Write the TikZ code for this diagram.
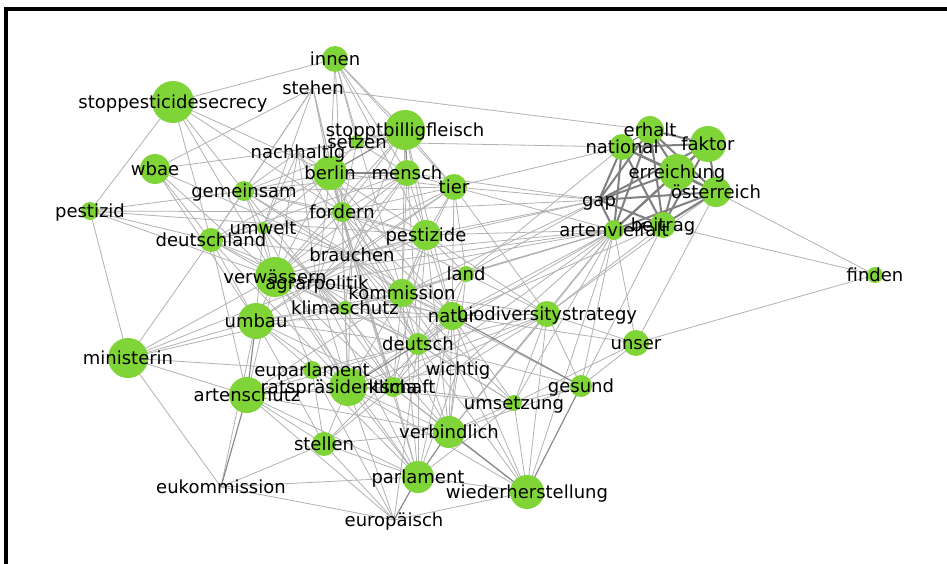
\documentclass[tikz,border=0pt]{standalone}
\usepackage{fontspec}
\setmainfont{DejaVu Sans}
\pgfdeclarelayer{bg}\pgfdeclarelayer{fg}\pgfsetlayers{bg,main,fg}
\definecolor{nodegreen}{RGB}{127,212,55}
\tikzset{
  dot/.style={circle, fill=nodegreen, draw=none, inner sep=0pt},
  lbl/.style={font=\fontsize{18}{18}\selectfont, text height=13.7pt, text depth=3.8pt, inner sep=0pt, text=black, yshift=-1.5pt},
  eA/.style={draw=black!30, line width=0.8pt},
  eB/.style={draw=black!48, line width=1.1pt},
  eC/.style={draw=black!50, line width=2pt},
}
\begin{document}
\begin{tikzpicture}[x=1pt,y=-1pt]
\useasboundingbox (0,0) rectangle (947,564);
% nodes
\foreach \n/\x/\y/\d in {inn/335/59/26, sps/173/102/42, sbf/405/130/40, se/357/142/14,
  wb/155/169/30, be/330/173/34, me/407/173/26, ti/454/187/26, ge/244/191/20,
  pz/90/211/18, fo/342/212/20, uw/263/228/12, dl/211/240/24, pe/426/235/30,
  vw/275/277/40, la/466/274/16, ko/402/293/28, ks/345/308/14, nt/452/316/28,
  bd/547/314/26, ub/256/321/36, de/418/344/22, un/636/343/26, mi/128/358/40,
  ep/312/370/18, rp/348/387/38, kl/393/387/20, as/247/395/36, gs/581/386/22,
  us/514/403/16, vb/449/432/32, sl/324/444/24, pa/418/477/32, wh/527/492/34,
  fi/875/275/16, er/650/130/28, nl/622/147/26, fa/708/144/36, ec/677/172/36,
  oe/716/192/30, av/614/230/20, bt/663/225/26}
  \node[dot, minimum size=\d pt] (\n) at (\x,\y) {};
\foreach \n/\x/\y in {st/313/88, na/298/152, br/352/255, ap/317/283, wi/458/369,
  ek/221/487, eu/394/520, gp/599/200}
  \coordinate (\n) at (\x,\y);
% edges
\begin{pgfonlayer}{bg}
\fill[white] (0,0) rectangle (947,564);
\foreach \a/\b in {inn/sps, inn/be, inn/se, inn/sbf, inn/me, inn/ti, inn/fo, inn/pe, inn/ko,
 sps/pz, sps/dl, sps/vw, sps/be, sps/fo, sps/ge,
 st/wb, st/uw, st/be, st/fo, st/br, st/er, st/dl, st/ge,
 wb/se, wb/dl, wb/vw, wb/ub, wb/br,
 sbf/ti, sbf/se, sbf/fo, sbf/pe, sbf/ko, sbf/br, sbf/vw, sbf/ge, sbf/na, sbf/nt, sbf/de,
 se/nl, se/be, se/me, se/fo,
 na/be, na/uw, na/fo, na/br, na/ap, na/ge, na/vw,
 be/ti, be/fo, be/ge, be/uw, be/dl, be/vw, be/br, be/ap, be/ko, be/pe, be/nt, be/kl, be/de,
 me/ti, me/fo, me/pe, me/br, me/ap, me/vw, me/ko, me/ge, me/dl,
 ti/pe, ti/fo, ti/la, ti/br, ti/vw, ti/ap, ti/ge, ti/ko, ti/nt,
 ge/fo, ge/vw, ge/br, ge/ap, ge/uw, ge/pe, ge/ko, ge/dl, ge/pz,
 pz/fo, pz/pe, pz/dl, pz/vw, pz/mi,
 fo/br, fo/vw, fo/ap, fo/ko, fo/pe, fo/nt, fo/de, fo/kl, fo/ks, fo/rp, fo/uw, fo/dl, fo/la,
 uw/vw, uw/br, uw/ap, uw/ub, uw/ks, uw/rp, uw/dl,
 dl/vw, dl/ub, dl/ap, dl/br, dl/ks, dl/rp, dl/mi, dl/as,
 pe/ko, pe/nt, pe/la, pe/br, pe/ap, pe/de, pe/vw, pe/kl, pe/vb,
 br/vw, br/ap, br/ko, br/ks, br/nt, br/de, br/rp, br/kl, br/ub, br/vb, br/pa, br/wi,
 vw/ap, vw/ko, vw/ub, vw/ks, vw/nt, vw/de, vw/rp, vw/ep, vw/kl, vw/pa, vw/mi, vw/as,
 ap/ko, ap/ks, ap/nt, ap/de, ap/rp, ap/ub, ap/kl, ap/vb, ap/pa, ap/mi,
 la/nt, la/de, la/ko, la/vb,
 ko/nt, ko/ks, ko/de, ko/rp, ko/kl, ko/ub, ko/pa, ko/wi, ko/gs, ko/us, ko/as,
 ks/nt, ks/rp, ks/ub, ks/de, ks/kl, ks/mi,
 nt/de, nt/wi, nt/rp, nt/kl, nt/ub, nt/us, nt/vb, nt/pa, nt/wh, nt/bd, nt/un, nt/sl,
 ub/rp, ub/ep, ub/kl, ub/de, ub/mi, ub/ek, ub/sl,
 de/kl, de/wi, de/ep, de/us, de/vb, de/pa, de/wh, de/gs, de/bd, de/eu, de/as,
 rp/kl, rp/ep, rp/wi, rp/as, rp/sl, rp/vb, rp/pa, rp/us, rp/eu, rp/bd, rp/wh,
 kl/as, kl/sl, kl/vb, kl/pa, kl/us, kl/wh, kl/bd,
 mi/ep, mi/as, mi/ek,
 ep/as, ep/sl, ep/pa, ep/eu,
 as/sl, as/vb, as/pa, as/eu,
 ek/sl, ek/pa, ek/eu, eu/sl,
 sl/pa, sl/vb,
 pa/wh, pa/us, pa/wi,
 vb/wi, vb/us, vb/gs, vb/bd,
 wh/eu, wh/wi, wh/us, wh/bd, wh/av,
 bd/la, bd/ti, bd/pe, bd/ko, bd/us, bd/gs, bd/vb, bd/un, bd/wi, bd/oe, bd/bt,
 gs/un, gs/us, gs/av, us/wi, us/un, us/av,
 un/fi, un/oe, un/av, fi/oe, fi/bt, bt/nt, bt/gs,
 gp/ti, gp/fo, gp/me, gp/pe, gp/ko, gp/br, gp/la,
 av/ti, av/pe, av/la, av/ko, av/nt, av/de, av/ks, av/vw, av/ap, av/br, av/bd, av/vb, av/wi, av/kl,
 nl/ti, nl/la}
  \draw[eA] (\a.center) -- (\b.center);
\foreach \a/\b in {sbf/be, sbf/me, be/me, as/ub, ek/as, pa/eu, pa/vb, vb/wh, gs/wh, nt/gs, de/rp, er/nl}
  \draw[eB] (\a.center) -- (\b.center);
\foreach \a/\b in {er/fa, er/ec, er/oe, er/gp, er/av, er/bt,
 nl/fa, nl/ec, nl/oe, nl/gp, nl/av, nl/bt,
 fa/ec, fa/oe, fa/gp, fa/av, fa/bt,
 ec/oe, ec/gp, ec/av, ec/bt,
 oe/gp, oe/av, oe/bt,
 gp/av, gp/bt, av/bt}
  \draw[eC] (\a.center) -- (\b.center);
\end{pgfonlayer}
\draw[line width=4pt] (947,9) -- (6,9) -- (6,564);
% labels
\begin{pgfonlayer}{fg}
\foreach \n/\t in {inn/innen, sps/stoppesticidesecrecy, st/stehen, sbf/stopptbilligfleisch,
  se/setzen, na/nachhaltig, wb/wbae, be/berlin, me/mensch, ti/tier, ge/gemeinsam,
  pz/pestizid, fo/fordern, uw/umwelt, dl/deutschland, pe/pestizide, br/brauchen,
  vw/verwässern, ap/agrarpolitik, la/land, ko/kommission, ks/klimaschutz, nt/natur,
  bd/biodiversitystrategy, ub/umbau, de/deutsch, un/unser, mi/ministerin, wi/wichtig,
  ep/euparlament, rp/ratspräsidentschaft, kl/klima, as/artenschutz, gs/gesund,
  us/umsetzung, vb/verbindlich, sl/stellen, pa/parlament, wh/wiederherstellung,
  ek/eukommission, eu/europäisch, fi/finden, er/erhalt, nl/national, fa/faktor,
  ec/erreichung, oe/österreich, gp/gap, av/artenvielfalt, bt/beitrag}
  \node[lbl] (\n-t) at (\n.center) {\t};
\end{pgfonlayer}
\end{tikzpicture}
\end{document}
